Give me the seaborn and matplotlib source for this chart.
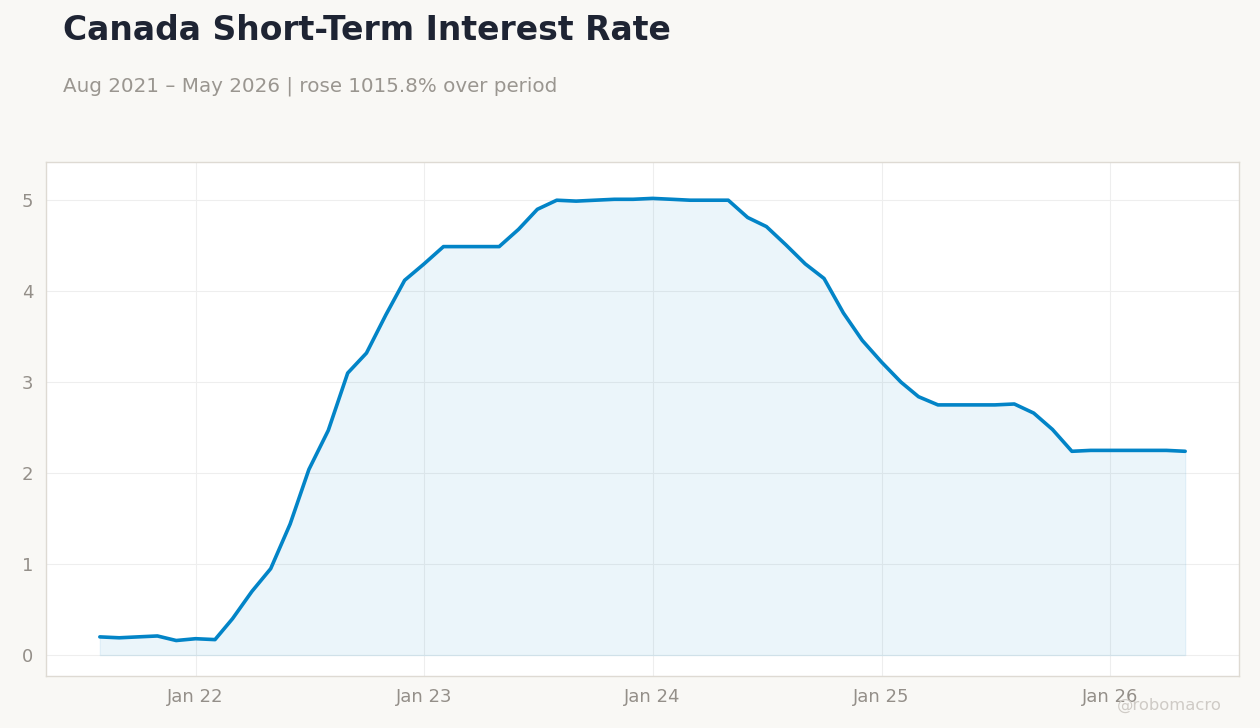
import matplotlib
matplotlib.use("Agg")
import matplotlib.pyplot as plt
import matplotlib.dates as mdates
import pandas as pd
import seaborn as sns

# monthly values, Aug 2021 - May 2026
start = "2021-08-01"
rates = [0.20, 0.19, 0.20, 0.21, 0.16, 0.18, 0.17, 0.40, 0.70, 0.95,
         1.44, 2.04, 2.47, 3.10, 3.32, 3.74, 4.12, 4.30, 4.49, 4.49,
         4.49, 4.49, 4.68, 4.90, 5.00, 4.99, 5.00, 5.01, 5.01, 5.02,
         5.01, 5.00, 5.00, 5.00, 4.81, 4.71, 4.51, 4.30, 4.14, 3.76,
         3.46, 3.22, 3.00, 2.84, 2.75, 2.75, 2.75, 2.75, 2.76, 2.66,
         2.48, 2.24, 2.25, 2.25, 2.25, 2.25, 2.25, 2.24]
dates = pd.date_range(start, periods=len(rates), freq="MS")
df = pd.DataFrame({"date": dates, "rate": rates})

title = "Canada Short-Term Interest Rate"
subtitle = "Aug 2021 – May 2026 | rose 1015.8% over period"

bg = "#f9f8f5"
line_c = "#0284c7"
grey = "#948f89"

sns.set_theme(style="white")
plt.rcParams["font.family"] = ["DejaVu Sans"]

fig = plt.figure(figsize=(12.6, 7.28), dpi=100, facecolor=bg)
ax = fig.add_axes([46 / 1260, 1 - 676 / 728, (1239 - 46) / 1260, (676 - 162) / 728])
ax.set_facecolor("white")

sns.lineplot(data=df, x="date", y="rate", ax=ax, color=line_c, linewidth=2.6)
ax.fill_between(df["date"], df["rate"], 0, color=line_c, alpha=0.08)

ax.set_ylim(-0.23, 5.42)
ax.set_xlim(df["date"].iloc[0] - pd.Timedelta(days=86), df["date"].iloc[-1] + pd.Timedelta(days=86))
ax.set_yticks([0, 1, 2, 3, 4, 5])
ax.xaxis.set_major_locator(mdates.YearLocator(month=1))
ax.xaxis.set_major_formatter(mdates.DateFormatter("Jan %y"))
ax.grid(True, color="#eeeeee", linewidth=0.8)
ax.set_xlabel("")
ax.set_ylabel("")
for s in ax.spines.values():
    s.set_color("#dedad3")
    s.set_linewidth(1)
ax.tick_params(axis="both", colors=grey, labelsize=13, length=4,
               width=0.8, pad=5)
ax.tick_params(axis="both", color="#999999")

fig.text(63 / 1260, 1 - 30 / 728, title, fontsize=23.8, fontweight="bold",
         color="#1e2433", va="center", ha="left")
fig.text(63 / 1260, 1 - 86 / 728, subtitle, fontsize=14.3, color="#9a9690",
         va="center", ha="left")
fig.text(1222 / 1260, 1 - 705 / 728, "@robomacro", fontsize=11.8, color="#cfcbc6",
         va="center", ha="right")

fig.savefig("out.png", dpi=100, facecolor=bg)
